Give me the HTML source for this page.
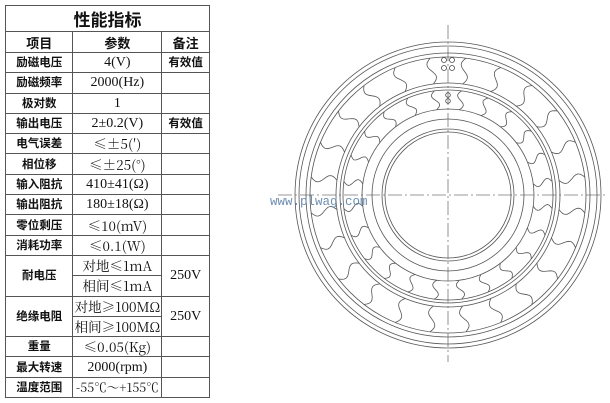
<!DOCTYPE html>
<html><head><meta charset="utf-8"><style>
body{margin:0;width:610px;height:403px;background:#fff;overflow:hidden;position:relative;font-family:"Liberation Serif","Noto Serif CJK SC","Noto Sans CJK SC",serif;}
table{position:absolute;left:5px;top:5px;border-collapse:collapse;width:205px;}
td{border:1px solid #555;text-align:center;font-size:14px;height:19.3px;padding:0;color:#111;line-height:19px;white-space:nowrap}
td.v{font-family:"Noto Serif CJK SC",serif;font-size:13.5px}
td.l{font-family:"Noto Sans CJK SC",sans-serif;font-weight:bold;font-size:11.5px}
.t td{height:25px;font-size:17px;font-family:"Noto Sans CJK SC",sans-serif;font-weight:bold}
.h td{font-size:13px;font-family:"Noto Sans CJK SC",sans-serif;font-weight:bold;height:20px}
#wm{position:absolute;left:270px;top:195px;font-family:"Liberation Mono",monospace;font-size:12.5px;color:#6f8fb0}
</style></head><body>
<table>
<colgroup><col style="width:68px"><col style="width:89px"><col style="width:48px"></colgroup>
<tr class="t"><td colspan="3">性能指标</td></tr>
<tr class="h"><td>项目</td><td>参数</td><td>备注</td></tr>
<tr><td class="l">励磁电压</td><td>4(V)</td><td class="l">有效值</td></tr>
<tr><td class="l">励磁频率</td><td>2000(Hz)</td><td></td></tr>
<tr><td class="l">极对数</td><td>1</td><td></td></tr>
<tr><td class="l">输出电压</td><td>2±0.2(V)</td><td class="l">有效值</td></tr>
<tr><td class="l">电气误差</td><td class="v">≤±5(′)</td><td></td></tr>
<tr><td class="l">相位移</td><td class="v">≤±25(°)</td><td></td></tr>
<tr><td class="l">输入阻抗</td><td>410±41(Ω)</td><td></td></tr>
<tr><td class="l">输出阻抗</td><td>180±18(Ω)</td><td></td></tr>
<tr><td class="l">零位剩压</td><td class="v">≤10(mV)</td><td></td></tr>
<tr><td class="l">消耗功率</td><td class="v">≤0.1(W)</td><td></td></tr>
<tr><td class="l" rowspan="2">耐电压</td><td class="v">对地≤1mA</td><td rowspan="2">250V</td></tr>
<tr><td class="v">相间≤1mA</td></tr>
<tr><td class="l" rowspan="2">绝缘电阻</td><td class="v">对地≥100MΩ</td><td rowspan="2">250V</td></tr>
<tr><td class="v">相间≥100MΩ</td></tr>
<tr><td class="l">重量</td><td class="v">≤0.05(Kg)</td><td></td></tr>
<tr><td class="l">最大转速</td><td>2000(rpm)</td><td></td></tr>
<tr><td class="l">温度范围</td><td class="v" style="font-size:12.5px">-55℃～+155℃</td><td></td></tr>
</table>
<svg id="s" width="610" height="403" style="position:absolute;left:0;top:0" fill="none" stroke="#555" stroke-width="0.8">
<g stroke="#777" stroke-width="0.8" stroke-dasharray="14,3,2,3"><line x1="448" y1="25" x2="448" y2="362"/><line x1="278" y1="195" x2="608" y2="195"/></g>
<g id="c"></g>
<g fill="none" stroke="#444" stroke-width="0.8"><circle cx="444" cy="60" r="2.5"/><circle cx="452" cy="60" r="2.5"/><circle cx="444" cy="68" r="2.5"/><circle cx="452" cy="68" r="2.5"/><circle cx="448" cy="95" r="2.3"/><circle cx="448" cy="101" r="2.3"/></g>
</svg>
<div id="wm">www.plwag.com</div>
<script>
var g=document.getElementById('c'),cx=448,cy=195,h='';
[153,149,142,138,112,108,105,86,76,66,63].forEach(function(r){h+='<circle cx="'+cx+'" cy="'+cy+'" r="'+r+'"/>';});
function waves(r1,r2,n,off,amp){for(var i=0;i<n;i++){var a=(i+off)/n*2*Math.PI,d='';for(var k=0;k<=12;k++){var t=k/12,r=r1+(r2-r1)*t,o=amp*Math.sin(t*2*Math.PI),ux=Math.sin(a),uy=-Math.cos(a);var x=cx+r*ux+o*(-uy),y=cy+r*uy+o*ux;d+=(k?'L':'M')+x.toFixed(1)+' '+y.toFixed(1);}h+='<path d="'+d+'"/>';}}
waves(112,138,24,0.5,4);waves(86,105,24,0.5,3.5);
g.innerHTML=h;
</script>
</body></html>
